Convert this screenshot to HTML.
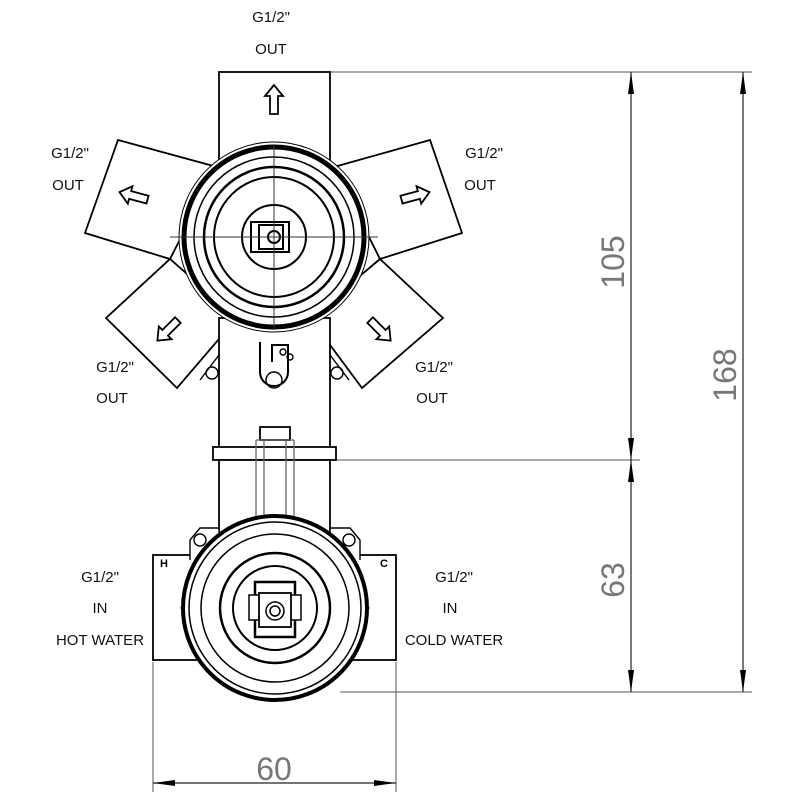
<!DOCTYPE html>
<html><head><style>html,body{margin:0;padding:0;background:#fff;}svg{display:block}</style></head>
<body>
<svg width="785" height="800" viewBox="0 0 785 800" xmlns="http://www.w3.org/2000/svg" font-family="Liberation Sans, sans-serif">
<defs>
<marker id="a" viewBox="0 0 22 8" refX="22" refY="4" markerWidth="22" markerHeight="8" orient="auto-start-reverse" markerUnits="userSpaceOnUse"><path d="M0,1 L22,4 L0,7 z" fill="#000"/></marker>
<g id="arr"><path d="M0,-15 L-9,-4 L-4,-4 L-4,14 L4,14 L4,-4 L9,-4 Z" fill="#fff" stroke="#000" stroke-width="1.8"/></g>
</defs>
<g fill="none" stroke="#000">
<g stroke="#555" stroke-width="1">
<line x1="330" y1="72" x2="752" y2="72"/>
<line x1="336" y1="460" x2="640" y2="460"/>
<line x1="340" y1="692" x2="752" y2="692"/>
<line x1="153" y1="662" x2="153" y2="792"/>
<line x1="396" y1="662" x2="396" y2="792"/>
</g>
<g stroke="#222" stroke-width="1.2">
<line x1="631" y1="72" x2="631" y2="460" marker-start="url(#a)" marker-end="url(#a)"/>
<line x1="631" y1="460" x2="631" y2="692" marker-start="url(#a)" marker-end="url(#a)"/>
<line x1="743" y1="72" x2="743" y2="692" marker-start="url(#a)" marker-end="url(#a)"/>
<line x1="153" y1="783" x2="396" y2="783" marker-start="url(#a)" marker-end="url(#a)"/>
</g>
<g stroke-width="1.8" fill="#fff">
<rect x="219" y="72" width="111" height="100"/>
<polygon points="118,140 217,167 170,259 85,233"/>
<polygon points="430,140 334,167 380,259 462,233"/>
<polygon points="106,318 170,259 237,318 177,388"/>
<polygon points="443,318 380,259 310,318 362,388"/>
<rect x="219" y="318" width="111" height="132"/>
<rect x="213" y="447" width="123" height="13"/>
<rect x="219" y="460" width="111" height="80"/>
<rect x="153" y="555" width="243" height="105"/>
</g>
<g stroke-width="1.4">
<circle cx="212" cy="373" r="6"/><circle cx="337" cy="373" r="6"/>
<path d="M200,380 L219,355 M349,380 L330,355"/>
<path d="M260,342 L260,372 A14,14 0 1 0 288,372 L288,345 L272,345 L272,362" stroke-width="2"/>
<circle cx="274" cy="380" r="8"/>
<circle cx="283" cy="352" r="3"/><circle cx="290" cy="357" r="3"/>
</g>
<g stroke-width="1.3">
<rect x="260" y="427" width="30" height="13" stroke-width="1.8"/>
<path d="M256,440 L256,525 M294,440 L294,525 M264,440 L264,525 M286,440 L286,525 M256,440 L294,440" stroke="#666"/>
</g>
<g stroke-width="1.4" fill="#fff">
<path d="M190,560 L190,540 L200,528 L219,528 L219,555"/>
<path d="M360,560 L360,540 L350,528 L330,528 L330,555"/>
<circle cx="200" cy="540" r="6"/><circle cx="349" cy="540" r="6"/>
</g>
<text x="160" y="567" font-size="11" font-weight="bold" fill="#000" stroke="none">H</text>
<text x="380" y="567" font-size="11" font-weight="bold" fill="#000" stroke="none">C</text>
<g fill="#fff">
<circle cx="274" cy="237" r="95" stroke-width="1"/>
<circle cx="274" cy="237" r="90" stroke-width="5"/>
<circle cx="274" cy="237" r="80" stroke-width="1.5"/>
<circle cx="274" cy="237" r="70" stroke-width="2.5"/>
<circle cx="274" cy="237" r="60" stroke-width="2"/>
<circle cx="274" cy="237" r="32" stroke-width="2"/>
<rect x="251" y="222" width="38" height="30" stroke-width="2"/>
<rect x="259" y="225" width="24" height="24" stroke-width="2"/>
<circle cx="274" cy="237" r="6" stroke-width="2"/>
</g>
<g stroke-width="1" stroke="#333">
<line x1="170" y1="237" x2="378" y2="237"/><line x1="274" y1="145" x2="274" y2="330"/>
<line x1="180" y1="608" x2="370" y2="608"/><line x1="275" y1="520" x2="275" y2="700"/>
</g>
<g fill="#fff">
<circle cx="275" cy="608" r="92" stroke-width="4"/>
<circle cx="275" cy="608" r="86" stroke-width="1.5"/>
<circle cx="275" cy="608" r="74" stroke-width="1.5"/>
<circle cx="275" cy="608" r="55" stroke-width="2.5"/>
<circle cx="275" cy="608" r="42" stroke-width="2"/>
<rect x="255" y="582" width="40" height="55" stroke-width="2.5"/>
<rect x="249" y="595" width="52" height="25" stroke-width="1.5"/>
<rect x="259" y="593" width="32" height="34" stroke-width="1.8"/>
<circle cx="275" cy="611" r="9" stroke-width="1.5"/>
<circle cx="275" cy="611" r="5" stroke-width="1.5"/>
</g>
</g>
<use href="#arr" transform="translate(274,100)"/>
<use href="#arr" transform="translate(134,196) rotate(-75)"/>
<use href="#arr" transform="translate(415,196) rotate(75)"/>
<use href="#arr" transform="translate(168,330) rotate(-135)"/>
<use href="#arr" transform="translate(380,330) rotate(135)"/>
<g font-size="15" fill="#111" text-anchor="middle">
<text x="271" y="22">G1/2"</text><text x="271" y="54">OUT</text>
<text x="70" y="158">G1/2"</text><text x="68" y="190">OUT</text>
<text x="484" y="158">G1/2"</text><text x="480" y="190">OUT</text>
<text x="115" y="372">G1/2"</text><text x="112" y="403">OUT</text>
<text x="434" y="372">G1/2"</text><text x="432" y="403">OUT</text>
<text x="100" y="582">G1/2"</text><text x="100" y="613">IN</text><text x="100" y="645">HOT WATER</text>
<text x="454" y="582">G1/2"</text><text x="450" y="613">IN</text><text x="454" y="645">COLD WATER</text>
</g>
<g font-size="32" fill="#777" text-anchor="middle">
<text transform="translate(624,262) rotate(-90)">105</text>
<text transform="translate(624,580) rotate(-90)">63</text>
<text transform="translate(736,375) rotate(-90)">168</text>
<text x="274" y="780">60</text>
</g>
</svg>
</body></html>
